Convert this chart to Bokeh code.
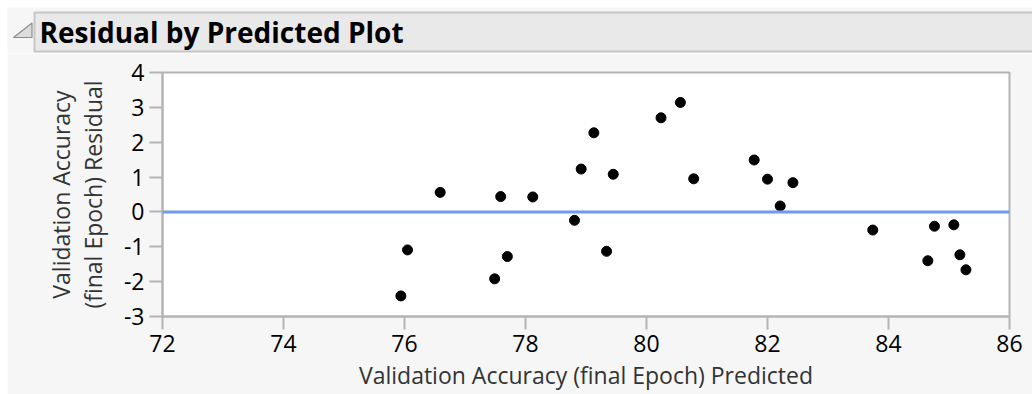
from bokeh.plotting import figure
from bokeh.models import Range1d, FixedTicker, Span, Spacer
from bokeh.layouts import column, row
from bokeh.core.properties import value
from bokeh.embed import file_html
from bokeh.resources import INLINE

# Predicted validation accuracy (final epoch) and the matching residuals
predicted = [75.94, 76.05, 76.59, 77.49, 77.59, 77.70, 78.12, 78.81, 78.92, 79.13,
             79.34, 79.45, 80.24, 80.56, 80.78, 81.78, 82.00, 82.21, 82.42, 83.74,
             84.65, 84.76, 85.08, 85.18, 85.28]
residual = [-2.41, -1.09, 0.56, -1.92, 0.44, -1.28, 0.43, -0.24, 1.23, 2.27,
            -1.13, 1.08, 2.70, 3.14, 0.95, 1.49, 0.94, 0.17, 0.84, -0.52,
            -1.40, -0.41, -0.37, -1.23, -1.66]

x_ticks = [72, 74, 76, 78, 80, 82, 84, 86]
y_ticks = [-3, -2, -1, 0, 1, 2, 3, 4]

title_text = "Residual by Predicted Plot"
x_label = "Validation Accuracy (final Epoch) Predicted"
y_label = "Validation Accuracy\n(final Epoch) Residual"

FONT = "Open Sans"
PANEL = "#f6f6f6"
FRAME = "#b4b4b4"

# ---- header strip with the disclosure triangle and report title ----
hdr = figure(width=1032, height=53, x_range=Range1d(0, 1032), y_range=Range1d(53, 0),
             output_backend="svg", toolbar_location=None, min_border=0,
             outline_line_color=None, background_fill_color="white",
             border_fill_color="white")
hdr.axis.visible = False
hdr.grid.visible = False
hdr.quad(left=[7], right=[1032], top=[7], bottom=[53], fill_color=PANEL, line_color=None)
hdr.quad(left=[34], right=[1033], top=[12], bottom=[51], fill_color="#e9e9e9",
         line_color="#c6c6c6", line_width=2)
hdr.patch(x=[13, 31.5, 31.5], y=[37, 37, 22.5], fill_color="#dcdcdc",
          line_color="#8c8c8c", line_width=1.2)
hdr.text(x=[39], y=[31], text=[title_text], text_font=value(FONT),
         text_font_style="bold", text_font_size="28px", text_color="black",
         text_baseline="middle", text_align="left")

# ---- residual scatter ----
p = figure(width=1025, height=341, x_range=Range1d(72, 86), y_range=Range1d(-3, 4),
           output_backend="svg", toolbar_location=None,
           min_border_left=155, min_border_right=23, min_border_top=19,
           min_border_bottom=78,
           background_fill_color="white", border_fill_color=PANEL,
           outline_line_color=FRAME, outline_line_width=2)
p.grid.visible = False

p.xaxis.ticker = FixedTicker(ticks=x_ticks)
p.yaxis.ticker = FixedTicker(ticks=y_ticks)
# plain hyphen for negative tick values
p.yaxis.major_label_overrides = {t: str(t) for t in y_ticks}
for ax in (p.xaxis[0], p.yaxis[0]):
    ax.axis_line_color = FRAME
    ax.axis_line_width = 2
    ax.major_tick_line_color = FRAME
    ax.major_tick_line_width = 2
    ax.major_tick_out = 13
    ax.major_tick_in = 0
    ax.minor_tick_line_color = None
    ax.major_label_text_font = FONT
    ax.major_label_text_font_size = "23px"
    ax.major_label_text_color = "black"
    ax.major_label_standoff = 5
    ax.axis_label_text_font = FONT
    ax.axis_label_text_font_size = "23px"
    ax.axis_label_text_font_style = "normal"
    ax.axis_label_text_color = "#333333"

p.xaxis.axis_label = x_label
p.xaxis.axis_label_standoff = 4
p.yaxis.axis_label = y_label
p.yaxis.axis_label_standoff = 12
p.yaxis.axis_label_text_line_height = 1.0

p.add_layout(Span(location=0, dimension="width", line_color="#6e9af2", line_width=3))
p.scatter(predicted, residual, size=10, marker="circle", fill_color="black",
          line_color="black")

layout = column(hdr, row(Spacer(width=7, height=341), p))

open("out.html", "w").write(file_html(layout, INLINE))
